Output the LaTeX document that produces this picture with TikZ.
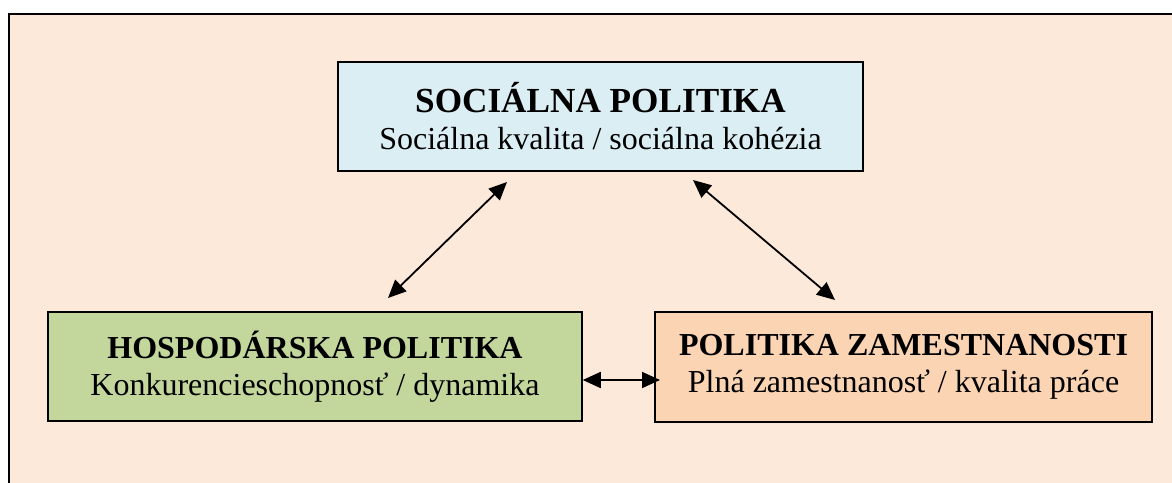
\documentclass[tikz,border=0pt]{standalone}
\usepackage{fontspec}
\setmainfont{Liberation Serif}
\usetikzlibrary{arrows.meta}
\definecolor{bgpeach}{HTML}{FDE9D9}
\definecolor{boxblue}{HTML}{DAEEF3}
\definecolor{boxgreen}{HTML}{C3D69B}
\definecolor{boxorange}{HTML}{FBD4B4}
\tikzset{
  panel/.style={draw=black, line width=0.75pt, align=center, inner sep=0pt,
    font=\fontsize{16}{18.5}\selectfont},
  link/.style={line width=0.9pt, {Triangle[length=9pt,width=8pt]}-{Triangle[length=9pt,width=8pt]}},
}
\begin{document}
\begin{tikzpicture}[x=0.5pt,y=-0.5pt]
\useasboundingbox (0,0) rectangle (1172,482);
\clip (0,0) rectangle (1172,482);
\fill[bgpeach] (9,14) rectangle (1200,520);
\draw[line width=1pt] (9,520) -- (9,14) -- (1200,14);

\node[panel, fill=boxblue, minimum width=262.5pt, minimum height=54.5pt] (soc) at (600.5,116.5)
  {{\fontsize{17.6}{18.5}\selectfont\textbf{SOCIÁLNA POLITIKA}}\\Sociálna kvalita / sociálna kohézia};
\node[panel, fill=boxgreen, minimum width=267pt, minimum height=54.5pt] (hosp) at (315,366.5)
  {\textbf{HOSPODÁRSKA POLITIKA}\\Konkurencieschopnosť / dynamika};
\node[panel, fill=boxorange, minimum width=248.5pt, minimum height=55pt] (zam) at (903.5,367)
  {\textbf{POLITIKA ZAMESTNANOSTI}\\Plná zamestnanosť / kvalita práce};

\coordinate (a1) at (388,298);
\coordinate (a2) at (507,182);
\coordinate (b1) at (693,180);
\coordinate (b2) at (835,300);
\coordinate (c2) at (660,380);

\draw[link] (a1) -- (a2);
\draw[link] (b1) -- (b2);
\draw[link] (hosp.east |- c2) -- (c2);
\end{tikzpicture}
\end{document}
